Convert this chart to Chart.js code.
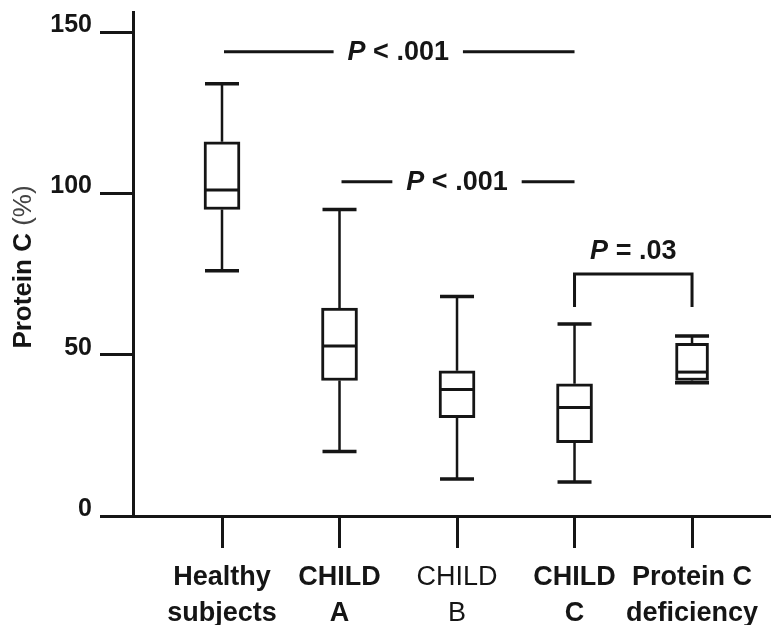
<!DOCTYPE html>
<html>
<head>
<meta charset="utf-8">
<script src="https://cdn.jsdelivr.net/npm/chart.js@4/dist/chart.umd.min.js"></script>
<style>
  html, body { margin: 0; padding: 0; background: #fff; }
  #wrap { width: 771px; height: 625px; }
</style>
</head>
<body>
<div id="wrap"><canvas id="c" width="771" height="625"></canvas></div>
<script>
// Protein C (%) by group: box = interquartile range, line = median, whiskers = range
const categories = [['Healthy', 'subjects'], ['CHILD', 'A'], ['CHILD', 'B'], ['CHILD', 'C'], ['Protein C', 'deficiency']];
const whiskerLow  = [76, 20, 11.5, 10.5, 41.3];
const quartile1   = [95, 42, 30.5, 22.7, 42];
const median      = [101, 52.7, 39.2, 33.6, 44.6];
const quartile3   = [116, 64.4, 45, 41, 53.5];
const whiskerHigh = [134, 95, 68, 59.5, 55.8];
const yTicks = [0, 50, 100, 150];

// Significance comparisons between groups (indices into categories)
const sigPrefix = ['P', 'P', 'P'];
const sigText   = [' < .001', ' < .001', ' = .03'];
const sigFrom   = [0, 1, 3];
const sigTo     = [3, 3, 4];
const sigStyle  = ['line', 'line', 'bracket'];

const INK = '#151515';
const FAMILY = '"Liberation Sans", Arial, Helvetica, sans-serif';

const boxPoints = (idx) => idx.map(i => ({ x: i + 1, y: [quartile1[i], quartile3[i]] }));

const boxPlugin = {
  id: 'boxDetails',
  afterDatasetsDraw(chart) {
    const { ctx, scales: { x, y } } = chart;
    ctx.save();
    ctx.strokeStyle = INK;
    categories.forEach((c, i) => {
      const cx = x.getPixelForValue(i + 1);
      const half = (i === 4 ? 33 : 36) / 2;
      const cap = 17;
      // whisker stems
      ctx.lineWidth = 2.5;
      ctx.beginPath();
      ctx.moveTo(cx, y.getPixelForValue(whiskerHigh[i]));
      ctx.lineTo(cx, y.getPixelForValue(quartile3[i]));
      ctx.moveTo(cx, y.getPixelForValue(quartile1[i]));
      ctx.lineTo(cx, y.getPixelForValue(whiskerLow[i]));
      ctx.stroke();
      // whisker caps
      ctx.lineWidth = 3.5;
      ctx.beginPath();
      [whiskerHigh[i], whiskerLow[i]].forEach(v => {
        const py = y.getPixelForValue(v);
        ctx.moveTo(cx - cap, py);
        ctx.lineTo(cx + cap, py);
      });
      ctx.stroke();
      // median
      ctx.lineWidth = 3;
      ctx.beginPath();
      const my = y.getPixelForValue(median[i]);
      ctx.moveTo(cx - half + 1, my);
      ctx.lineTo(cx + half - 1, my);
      ctx.stroke();
    });
    ctx.restore();
  }
};

const sigPlugin = {
  id: 'significance',
  afterDraw(chart) {
    const { ctx, scales: { x, y } } = chart;
    const levels = [143.9, 103.6, 75.0];
    const bracketDrop = 10.2;
    const size = 27;
    const italic = `italic bold ${size}px ${FAMILY}`;
    const bold = `bold ${size}px ${FAMILY}`;
    ctx.save();
    ctx.strokeStyle = INK;
    ctx.fillStyle = INK;
    ctx.lineWidth = 3;
    ctx.textBaseline = 'middle';
    sigText.forEach((t, k) => {
      const x0 = x.getPixelForValue(sigFrom[k] + 1);
      const x1 = x.getPixelForValue(sigTo[k] + 1);
      const mid = (x0 + x1) / 2;
      ctx.font = italic;
      const wp = ctx.measureText(sigPrefix[k]).width;
      ctx.font = bold;
      const wt = ctx.measureText(t).width;
      const w = wp + wt;
      const left = mid - w / 2;
      if (sigStyle[k] === 'line') {
        const py = y.getPixelForValue(levels[k]);
        const gap = 14;
        ctx.beginPath();
        ctx.moveTo(x0 + 2, py);
        ctx.lineTo(left - gap, py);
        ctx.moveTo(left + w + gap, py);
        ctx.lineTo(x1, py);
        ctx.stroke();
        ctx.textAlign = 'left';
        ctx.font = italic;
        ctx.fillText(sigPrefix[k], left, py + 1);
        ctx.font = bold;
        ctx.fillText(t, left + wp, py + 1);
      } else {
        const py = y.getPixelForValue(levels[k]);
        const pb = y.getPixelForValue(levels[k] - bracketDrop);
        ctx.beginPath();
        ctx.moveTo(x0, pb);
        ctx.lineTo(x0, py);
        ctx.lineTo(x1, py);
        ctx.lineTo(x1, pb);
        ctx.stroke();
        const ty = py - 22;
        ctx.textAlign = 'left';
        ctx.font = italic;
        ctx.fillText(sigPrefix[k], left, ty);
        ctx.font = bold;
        ctx.fillText(t, left + wp, ty);
      }
    });
    ctx.restore();
  }
};

const titlePlugin = {
  id: 'yTitle',
  afterDraw(chart) {
    const { ctx, chartArea } = chart;
    const partA = 'Protein C ';
    const partB = '(%)';
    const fa = `bold 26px ${FAMILY}`;
    const fb = `26px ${FAMILY}`;
    ctx.save();
    ctx.font = fa;
    const wa = ctx.measureText(partA).width;
    ctx.font = fb;
    const wb = ctx.measureText(partB).width;
    const cy = (chartArea.top + chartArea.bottom) / 2 + 3;
    ctx.translate(24, cy);
    ctx.rotate(-Math.PI / 2);
    ctx.fillStyle = INK;
    ctx.textBaseline = 'middle';
    ctx.textAlign = 'left';
    const start = -(wa + wb) / 2;
    ctx.font = fa;
    ctx.fillText(partA, start, 0);
    ctx.font = fb;
    ctx.fillStyle = '#444';
    ctx.fillText(partB, start + wa, 0);
    ctx.restore();
  }
};

new Chart(document.getElementById('c'), {
  type: 'bar',
  data: {
    datasets: [
      {
        data: boxPoints([0, 1, 2, 3]),
        backgroundColor: '#fff',
        borderColor: INK,
        borderWidth: 3,
        borderSkipped: false,
        barThickness: 36,
        grouped: false
      },
      {
        data: boxPoints([4]),
        backgroundColor: '#fff',
        borderColor: INK,
        borderWidth: 3,
        borderSkipped: false,
        barThickness: 33,
        grouped: false
      }
    ]
  },
  options: {
    responsive: false,
    animation: false,
    layout: { padding: { top: 12, left: 0, right: 0, bottom: 0 } },
    plugins: { legend: { display: false }, tooltip: { enabled: false } },
    scales: {
      x: {
        type: 'linear',
        offset: false,
        min: 0.2426,
        max: 5.672,
        afterBuildTicks: (s) => { s.ticks = categories.map((c, i) => ({ value: i + 1 })); },
        afterFit: (s) => { s.height = 109; s.paddingLeft = 0; s.paddingRight = 0; },
        ticks: {
          callback: (v) => categories[Math.round(v) - 1],
          autoSkip: false,
          maxRotation: 0,
          padding: 11,
          color: INK,
          font: (c) => ({
            family: FAMILY,
            size: 27,
            weight: c.index === 2 ? 'normal' : 'bold',
            lineHeight: 1.34
          })
        },
        grid: { drawOnChartArea: false, offset: false, tickLength: 32, color: INK, lineWidth: 3 },
        border: { color: INK, width: 3 }
      },
      y: {
        min: 0,
        max: 156.2,
        afterBuildTicks: (s) => { s.ticks = yTicks.map(v => ({ value: v })); },
        afterFit: (s) => { s.width = 133; s.paddingTop = 0; s.paddingBottom = 0; },
        ticks: {
          padding: 8,
          labelOffset: -7,
          color: INK,
          font: { family: FAMILY, size: 25, weight: 'bold' }
        },
        grid: { drawOnChartArea: false, tickLength: 33, color: INK, lineWidth: 3 },
        border: { color: INK, width: 3 }
      }
    }
  },
  plugins: [boxPlugin, sigPlugin, titlePlugin]
});
</script>
</body>
</html>
